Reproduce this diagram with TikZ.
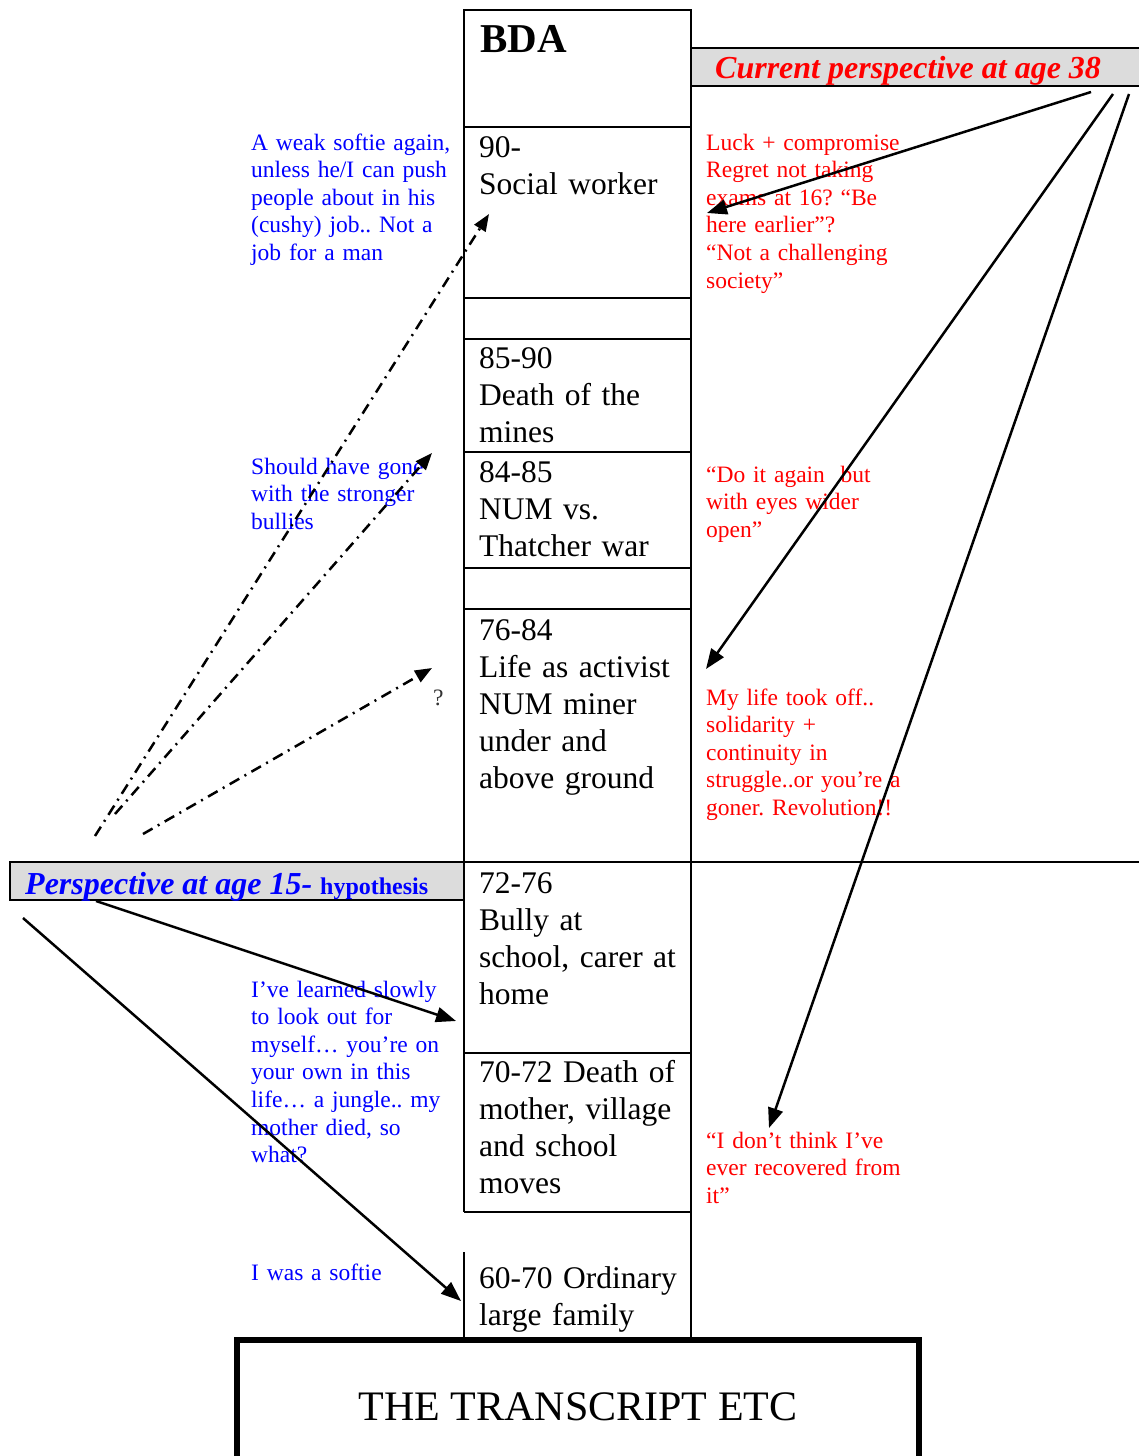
\documentclass[tikz,border=0pt]{standalone}
\usepackage{fontspec}
\setmainfont{Liberation Serif}
\usetikzlibrary{arrows.meta}
\definecolor{bandgray}{HTML}{DCDCDC}
\definecolor{annblue}{HTML}{0000FF}
\definecolor{annred}{HTML}{FF0000}
\definecolor{qgray}{HTML}{333333}
\newcommand\bodyfont{\fontsize{31.5}{37}\selectfont}
\newcommand\notefont{\fontsize{23.5}{27.6}\selectfont}
\frenchspacing
\begin{document}
\begin{tikzpicture}[x=1pt,y=-1pt,
  rule/.style={line width=2.5pt},
  cell/.style={anchor=base west,inner sep=0pt,text width=215pt,align=left,font=\bodyfont},
  bnote/.style={anchor=base west,inner sep=0pt,text width=240pt,align=left,font=\notefont,text=annblue},
  rnote/.style={anchor=base west,inner sep=0pt,text width=260pt,align=left,font=\notefont,text=annred},
  solidarrow/.style={line width=2.5pt,-{Triangle[length=20pt,width=15pt]}},
  dasharrow/.style={line width=2.5pt,dash pattern=on 11pt off 6pt on 2pt off 6pt,-{Triangle[length=17pt,width=13pt]}},
]
\useasboundingbox (0,0) rectangle (1139,1456);
% grey bands
\fill[bandgray] (691,48) rectangle (1139,86);
\draw[rule] (691,48) -- (1139,48);
\draw[rule] (691,86) -- (1139,86);
\fill[bandgray] (10,862) rectangle (464,900);
\draw[rule] (464,862) -- (10,862) -- (10,900) -- (464,900);
% central column
\draw[rule] (464,1212) -- (464,10) -- (691,10) -- (691,1340);
\draw[rule] (464,1252) -- (464,1340);
\foreach \yy in {127,298,339,452,568,609,862,1053,1212}
  \draw[rule] (464,\yy) -- (691,\yy);
\draw[rule] (691,862) -- (1139,862);
% transcript box
\draw[line width=6pt,line join=miter] (237,1456) -- (237,1340) -- (919,1340) -- (919,1456);
\node[anchor=base,inner sep=0pt,font=\fontsize{42}{48}\selectfont] (tr) at (578,1420) {THE TRANSCRIPT ETC};
% headers
\node[anchor=base west,inner sep=0pt,font=\fontsize{41}{46}\selectfont\bfseries] (bda) at (480,52) {BDA};
\node[anchor=base west,inner sep=0pt,font=\fontsize{32}{36}\selectfont\bfseries\itshape,text=annred] (cur) at (715,78) {Current perspective at age 38};
\node[anchor=base west,inner sep=0pt,text=annblue] (p15) at (25,894) {{\fontsize{32}{36}\selectfont\bfseries\itshape Perspective at age 15-\ }{\fontsize{24}{28}\selectfont\bfseries hypothesis}};
% column cells
\node[cell] (c90) at (479,157) {90-\\Social worker};
\node[cell] (c85) at (479,368) {85-90\\Death of the\\mines};
\node[cell] (c84) at (479,482) {84-85\\NUM vs.\\Thatcher war};
\node[cell] (c76) at (479,640) {76-84\\Life as activist\\NUM miner\\under and\\above ground};
\node[cell] (c72) at (479,893) {72-76\\Bully at\\school, carer at\\home};
\node[cell] (c70) at (479,1082) {70-72 Death of\\mother, village\\and school\\moves};
\node[cell] (c60) at (479,1288) {60-70 Ordinary\\large family};
% blue notes
\node[bnote] (b1) at (251,150) {A weak softie again,\\unless he/I can push\\people about in his\\(cushy) job.. Not a\\job for a man};
\node[bnote] (b2) at (251,474) {Should have gone\\with the stronger\\bullies};
\node[bnote] (b3) at (251,997) {I’ve learned slowly\\to look out for\\myself… you’re on\\your own in this\\life… a jungle.. my\\mother died, so\\what?};
\node[bnote] (b4) at (251,1280) {I was a softie};
\node[anchor=base west,inner sep=0pt,font=\notefont,text=qgray] (q) at (433,705) {?};
% red notes
\node[rnote] (r1) at (706,150) {Luck + compromise\\Regret not taking\\exams at 16? “Be\\here earlier”?\\“Not a challenging\\society”};
\node[rnote] (r2) at (706,482) {“Do it again~ but\\with eyes wider\\open”};
\node[rnote] (r3) at (706,705) {My life took off..\\solidarity +\\continuity in\\struggle..or you’re a\\goner. Revolution!!};
\node[rnote] (r4) at (706,1148) {“I don’t think I’ve\\ever recovered from\\it”};
% connector end points
\coordinate (a1s) at (1091,92);  \coordinate (a1e) at (707,213);
\coordinate (a2s) at (1113,94);  \coordinate (a2e) at (706,669);
\coordinate (a3s) at (1129,94);  \coordinate (a3e) at (769,1128);
\coordinate (a4s) at (96,901);   \coordinate (a4e) at (456,1021);
\coordinate (a5s) at (23,918);   \coordinate (a5e) at (461,1301);
\coordinate (d1s) at (95,836);   \coordinate (d1e) at (489,214);
\coordinate (d2s) at (115,814);  \coordinate (d2e) at (432,453);
\coordinate (d3s) at (143,834);  \coordinate (d3e) at (432,668);
% connectors
\draw[solidarrow] (a1s) -- (a1e);
\draw[solidarrow] (a2s) -- (a2e);
\draw[solidarrow] (a3s) -- (a3e);
\draw[solidarrow] (a4s) -- (a4e);
\draw[solidarrow] (a5s) -- (a5e);
\draw[dasharrow] (d1s) -- (d1e);
\draw[dasharrow] (d2s) -- (d2e);
\draw[dasharrow] (d3s) -- (d3e);
\end{tikzpicture}
\end{document}
